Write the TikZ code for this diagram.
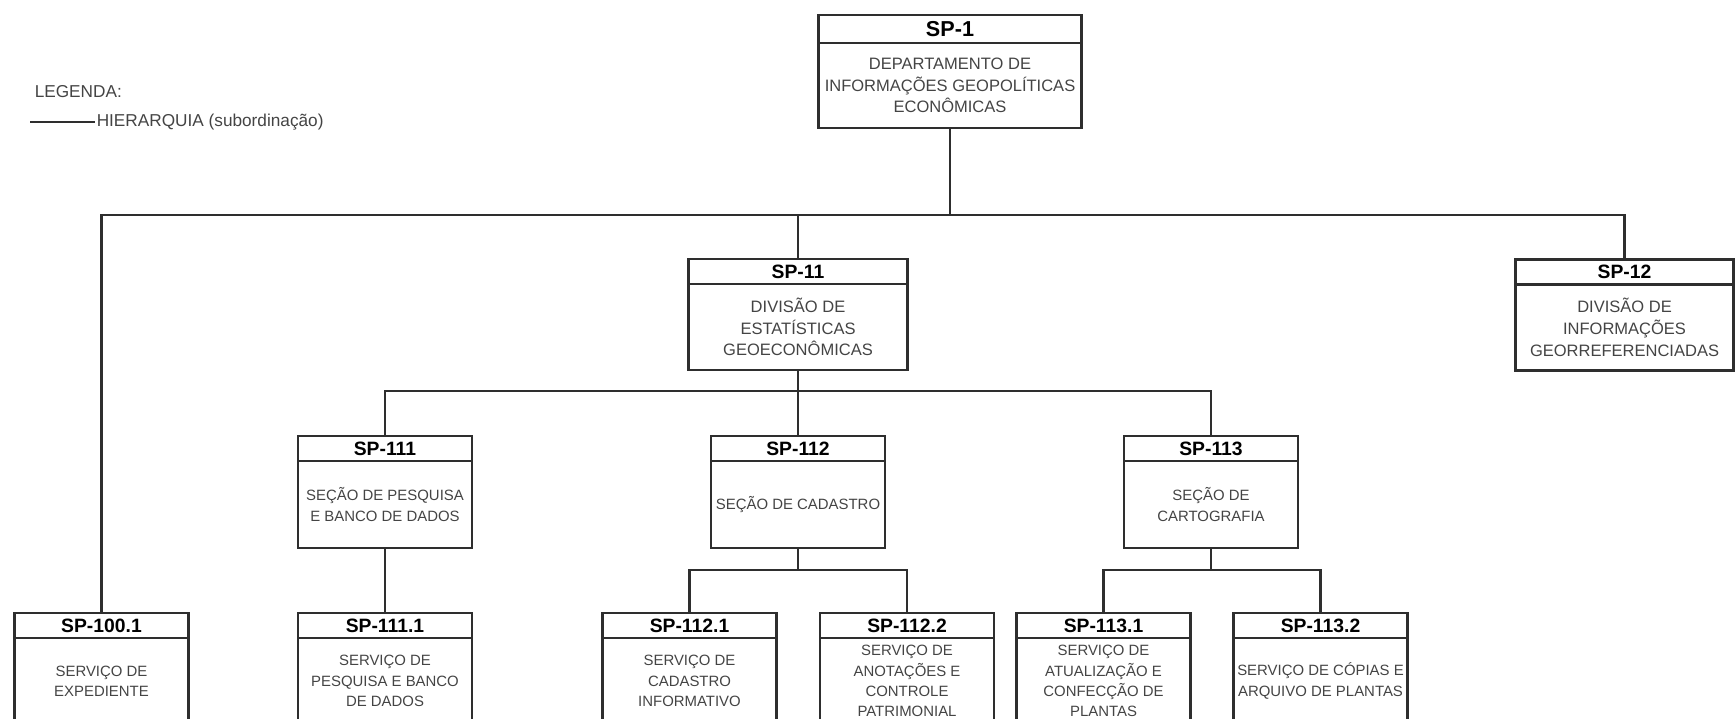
\documentclass[tikz,border=0pt]{standalone}
\usepackage{fontspec}
\setmainfont{Liberation Sans}
\usepackage{tikz}
\usetikzlibrary{positioning}

\definecolor{linha}{HTML}{2E2E2E}
\definecolor{texto}{HTML}{444444}

\begin{document}
\begin{tikzpicture}[
	x=0.02cm, y=-0.02cm,
	every node/.style={outer sep=0pt, inner sep=1pt, align=center},
	cab/.style={draw=linha, line width=1.4pt, text=black, font=\fontsize{11}{13}\selectfont\bfseries, minimum height=0.5cm},
	corpo/.style={draw=linha, line width=1.4pt, text=texto, font=\fontsize{9.4}{12.4}\selectfont},
	corpob/.style={draw=linha, line width=1.4pt, text=texto, font=\fontsize{8.5}{11.5}\selectfont},
	legenda/.style={text=texto, font=\fontsize{9.8}{12}\selectfont, anchor=west},
	hier/.style={draw=linha, line width=1.4pt}
	]
	
	\clip (0,0) rectangle (1736,719);
	
	% Legend
	\node[legenda] (legtit) at (33,92) {LEGENDA:};
	\node[legenda] (legtxt) at (95,122) {HIERARQUIA (subordinação)};
	\coordinate (legini) at (30,122);
	
	% Nodes
	\node[cab, minimum width=5.26cm, minimum height=0.56cm, font=\fontsize{12.3}{14}\selectfont\bfseries] (sp1h) at (950,29) {SP-1};
	\node[corpo, minimum width=5.26cm, minimum height=1.70cm, below=0pt of sp1h] (sp1b) {DEPARTAMENTO DE\\INFORMAÇÕES GEOPOLÍTICAS\\ECONÔMICAS};
	
	\node[cab, minimum width=4.38cm] (sp11h) at (798,271.5) {SP-11};
	\node[corpo, minimum width=4.38cm, minimum height=1.72cm, below=0pt of sp11h] (sp11b) {DIVISÃO DE\\ESTATÍSTICAS\\GEOECONÔMICAS};
	
	\node[cab, minimum width=4.36cm] (sp12h) at (1624.5,272) {SP-12};
	\node[corpo, minimum width=4.36cm, minimum height=1.72cm, below=0pt of sp12h] (sp12b) {DIVISÃO DE\\INFORMAÇÕES\\GEORREFERENCIADAS};
	
	\node[cab, minimum width=3.48cm] (sp111h) at (385,448.5) {SP-111};
	\node[corpob, minimum width=3.48cm, minimum height=1.74cm, below=0pt of sp111h] (sp111b) {SEÇÃO DE PESQUISA\\E BANCO DE DADOS};
	
	\node[cab, minimum width=3.48cm] (sp112h) at (798,448.5) {SP-112};
	\node[corpob, minimum width=3.48cm, minimum height=1.74cm, below=0pt of sp112h] (sp112b) {SEÇÃO DE CADASTRO};
	
	\node[cab, minimum width=3.48cm] (sp113h) at (1211,448.5) {SP-113};
	\node[corpob, minimum width=3.48cm, minimum height=1.74cm, below=0pt of sp113h] (sp113b) {SEÇÃO DE\\CARTOGRAFIA};
	
	\node[cab, minimum width=3.48cm] (sp1001h) at (101.5,625.5) {SP-100.1};
	\node[corpob, minimum width=3.48cm, minimum height=1.72cm, below=0pt of sp1001h] (sp1001b) {SERVIÇO DE\\EXPEDIENTE};
	
	\node[cab, minimum width=3.48cm] (sp1111h) at (385,625.5) {SP-111.1};
	\node[corpob, minimum width=3.48cm, minimum height=1.72cm, below=0pt of sp1111h] (sp1111b) {SERVIÇO DE\\PESQUISA E BANCO\\DE DADOS};
	
	\node[cab, minimum width=3.48cm] (sp1121h) at (689.5,625.5) {SP-112.1};
	\node[corpob, minimum width=3.48cm, minimum height=1.72cm, below=0pt of sp1121h] (sp1121b) {SERVIÇO DE\\CADASTRO\\INFORMATIVO};
	
	\node[cab, minimum width=3.48cm] (sp1122h) at (907,625.5) {SP-112.2};
	\node[corpob, minimum width=3.48cm, minimum height=1.72cm, below=0pt of sp1122h] (sp1122b) {SERVIÇO DE\\ANOTAÇÕES E\\CONTROLE\\PATRIMONIAL};
	
	\node[cab, minimum width=3.48cm] (sp1131h) at (1103.5,625.5) {SP-113.1};
	\node[corpob, minimum width=3.48cm, minimum height=1.72cm, below=0pt of sp1131h] (sp1131b) {SERVIÇO DE\\ATUALIZAÇÃO E\\CONFECÇÃO DE\\PLANTAS};
	
	\node[cab, minimum width=3.48cm] (sp1132h) at (1320.5,625.5) {SP-113.2};
	\node[corpob, minimum width=3.48cm, minimum height=1.72cm, below=0pt of sp1132h] (sp1132b) {SERVIÇO DE CÓPIAS E\\ARQUIVO DE PLANTAS};
	
	% Bus points
	\coordinate (bus1) at (950,215);
	\coordinate (bus2) at (798,391);
	\coordinate (bus3) at (798,570);
	\coordinate (bus4) at (1211,570);
	
	% Lines
	\draw[hier] (legini) -- (legtxt.west);
	
	\draw[hier] (sp1b.south) -- (bus1);
	\draw[hier] (bus1) -| (sp1001h.north);
	\draw[hier] (bus1) -| (sp11h.north);
	\draw[hier] (bus1) -| (sp12h.north);
	
	\draw[hier] (sp11b.south) -- (bus2);
	\draw[hier] (bus2) -| (sp111h.north);
	\draw[hier] (bus2) -- (sp112h.north);
	\draw[hier] (bus2) -| (sp113h.north);
	
	\draw[hier] (sp111b.south) -- (sp1111h.north);
	
	\draw[hier] (sp112b.south) -- (bus3);
	\draw[hier] (bus3) -| (sp1121h.north);
	\draw[hier] (bus3) -| (sp1122h.north);
	
	\draw[hier] (sp113b.south) -- (bus4);
	\draw[hier] (bus4) -| (sp1131h.north);
	\draw[hier] (bus4) -| (sp1132h.north);
	
\end{tikzpicture}
\end{document}
